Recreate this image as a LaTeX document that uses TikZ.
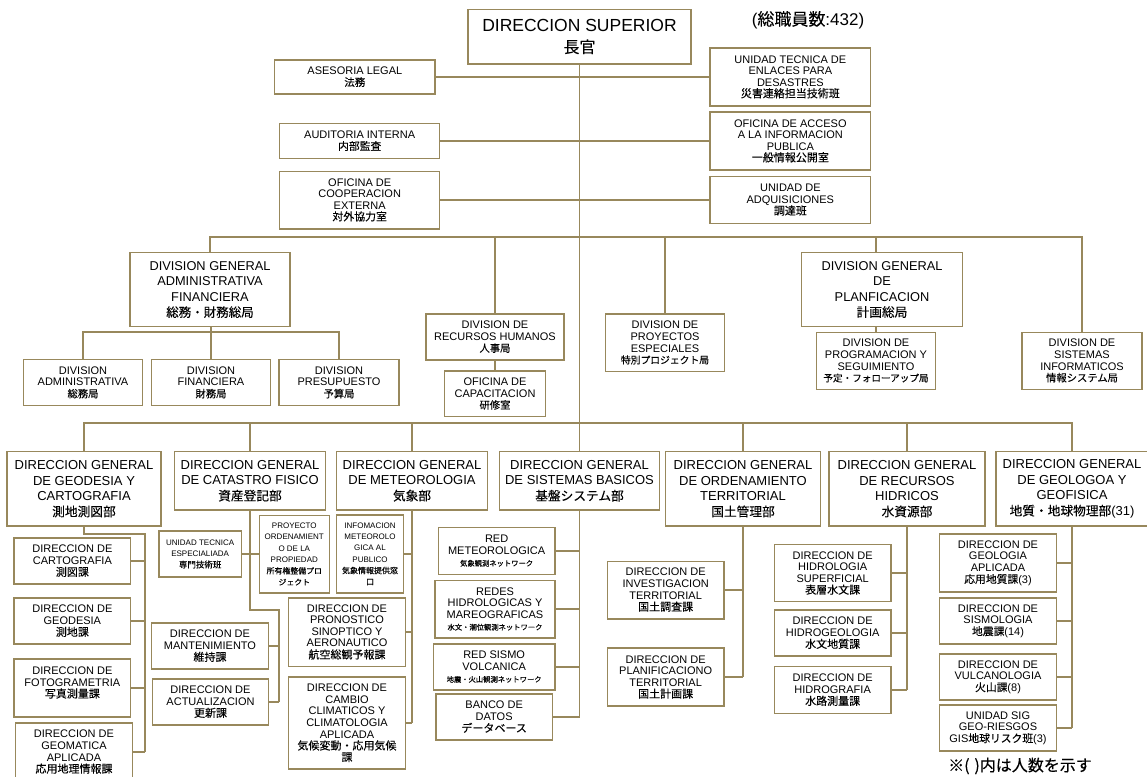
\documentclass[tikz,border=0pt]{standalone}
\usepackage{fontspec}
\setmainfont{Liberation Sans}
\newfontfamily\jp{Noto Sans CJK JP}[FakeBold=0.12]
\usetikzlibrary{backgrounds}
\definecolor{gold}{RGB}{152,136,92}
\newcommand\myfs[2]{\fontsize{#1}{#2}\selectfont}
\newcommand\J[1]{{\jp #1}}
\newcommand\Jsz[2]{{\jp\fontsize{#1}{#1}\selectfont #2}}
\tikzset{
 box/.style={draw=gold, line width=1.4pt, fill=white, inner sep=0pt, align=center},
 fbig/.style={font=\myfs{17.5}{21.5}},
 ftop/.style={font=\myfs{11}{11.4}},
 fnormal/.style={font=\myfs{11}{11.6}},
 fdg/.style={font=\myfs{13}{15.6}},
 fdiv/.style={font=\myfs{12.8}{15.6}},
 ftiny/.style={font=\myfs{8}{11.3}},
 conn/.style={draw=gold, line width=1.7pt},
}
\begin{document}
\begin{tikzpicture}[x=1pt,y=-1pt]
\useasboundingbox (0,0) rectangle (1147,776);
% ---- top section
\node[box,fbig,minimum width=223pt,minimum height=54.7pt] (dirsup) at (579.5,36.65) {DIRECCION SUPERIOR\\\Jsz{16}{長官}};
\node[font=\myfs{17}{20},inner sep=0pt] (total) at (808,20) {(\J{総職員数}:432)};
\node[box,ftop,minimum width=160.3pt,minimum height=34.3pt] (ases) at (354.85,77) {ASESORIA LEGAL\\\Jsz{10.5}{法務}};
\node[box,ftop,minimum width=160pt,minimum height=34.7pt] (aud) at (359.7,141) {AUDITORIA INTERNA\\\Jsz{10.8}{内部監査}};
\node[box,ftop,minimum width=160pt,minimum height=57.6pt] (coop) at (359.7,200) {OFICINA DE\\COOPERACION\\EXTERNA\\\Jsz{10.9}{対外協力室}};
\node[box,ftop,minimum width=160.7pt,minimum height=57.7pt] (ute) at (790.35,77) {UNIDAD TECNICA DE\\ENLACES PARA\\DESASTRES\\\Jsz{11}{災害連絡担当技術班}};
\node[box,ftop,minimum width=160.7pt,minimum height=57.7pt] (acc) at (790.35,141) {OFICINA DE ACCESO\\A LA INFORMACION\\PUBLICA\\\Jsz{11}{一般情報公開室}};
\node[box,ftop,minimum width=160.7pt,minimum height=46.6pt] (adq) at (790.35,200) {UNIDAD DE\\ADQUISICIONES\\\Jsz{11}{調達班}};
% ---- middle section
\node[box,fdiv,minimum width=160.3pt,minimum height=74.4pt] (dgaf) at (210,289.5) {DIVISION GENERAL\\ADMINISTRATIVA\\FINANCIERA\\\Jsz{12.5}{総務・財務総局}};
\node[box,fnormal,minimum width=119.4pt,minimum height=46.4pt] (dadm) at (83,382.5) {DIVISION\\ADMINISTRATIVA\\\Jsz{10.3}{総務局}};
\node[box,fnormal,minimum width=119pt,minimum height=46.4pt] (dfin) at (211,382.5) {DIVISION\\FINANCIERA\\\Jsz{10.3}{財務局}};
\node[box,fnormal,minimum width=119.7pt,minimum height=46.4pt] (dpre) at (339,382.5) {DIVISION\\PRESUPUESTO\\\Jsz{10.3}{予算局}};
\node[box,fnormal,minimum width=138pt,minimum height=46pt] (rrhh) at (495,337) {DIVISION DE\\RECURSOS HUMANOS\\\Jsz{10.3}{人事局}};
\node[box,fnormal,minimum width=100.7pt,minimum height=45.7pt] (capa) at (495,393.85) {OFICINA DE\\CAPACITACION\\\Jsz{10.3}{研修室}};
\node[box,fnormal,minimum width=119pt,minimum height=57.7pt] (proy) at (665,342.85) {DIVISION DE\\PROYECTOS\\ESPECIALES\\\Jsz{9.8}{特別プロジェクト局}};
\node[box,fdiv,minimum width=160.6pt,minimum height=74.4pt] (planif) at (882,289.5) {DIVISION GENERAL\\DE\\PLANFICACION\\\Jsz{12.7}{計画総局}};
\node[box,fnormal,minimum width=119pt,minimum height=57pt] (prog) at (876,360.8) {DIVISION DE\\PROGRAMACION Y\\SEGUIMIENTO\\\Jsz{9.6}{予定・フォローアップ局}};
\node[box,fnormal,minimum width=120pt,minimum height=57pt] (sist) at (1082,360.8) {DIVISION DE\\SISTEMAS\\INFORMATICOS\\\Jsz{10.3}{情報システム局}};
% ---- direcciones generales
\node[box,fdg,minimum width=154.3pt,minimum height=74.3pt] (dggeo) at (84,488.85) {DIRECCION GENERAL\\DE GEODESIA Y\\CARTOGRAFIA\\\Jsz{12.7}{測地測図部}};
\node[box,fdg,minimum width=151.4pt,minimum height=58.3pt] (dgcat) at (250,480.85) {DIRECCION GENERAL\\DE CATASTRO FISICO\\\Jsz{12.7}{資産登記部}};
\node[box,fdg,minimum width=150.6pt,minimum height=58.3pt] (dgmet) at (412,480.85) {DIRECCION GENERAL\\DE METEOROLOGIA\\\Jsz{12.7}{気象部}};
\node[box,fdg,minimum width=159.6pt,minimum height=58.3pt] (dgsis) at (579.5,480.85) {DIRECCION GENERAL\\DE SISTEMAS BASICOS\\\Jsz{12.7}{基盤システム部}};
\node[box,fdg,minimum width=155.3pt,minimum height=74.3pt] (dgord) at (743,488.85) {DIRECCION GENERAL\\DE ORDENAMIENTO\\TERRITORIAL\\\Jsz{12.7}{国土管理部}};
\node[box,fdg,minimum width=155.7pt,minimum height=74.3pt] (dgrec) at (907,488.85) {DIRECCION GENERAL\\DE RECURSOS\\HIDRICOS\\\Jsz{12.7}{水資源部}};
\node[box,fdg,minimum width=152.4pt,minimum height=74.3pt] (dggeol) at (1072,488.85) {DIRECCION GENERAL\\DE GEOLOGOA Y\\GEOFISICA\\\Jsz{12.7}{地質・地球物理部}(31)};
% ---- geodesia
\node[box,fnormal,minimum width=116.7pt,minimum height=46pt] (c1) at (72.35,561) {DIRECCION DE\\CARTOGRAFIA\\\Jsz{11}{測図課}};
\node[box,fnormal,minimum width=116.7pt,minimum height=46.3pt] (c2) at (72.35,621) {DIRECCION DE\\GEODESIA\\\Jsz{11}{測地課}};
\node[box,fnormal,minimum width=116.7pt,minimum height=58pt] (c3) at (72.35,688) {DIRECCION DE\\FOTOGRAMETRIA\\\Jsz{11}{写真測量課}\\\mbox{}};
\node[box,fnormal,minimum width=116.6pt,minimum height=58pt] (c4) at (74,752) {DIRECCION DE\\GEOMATICA\\APLICADA\\\Jsz{11}{応用地理情報課}};
% ---- catastro
\node[box,ftiny,minimum width=82.3pt,minimum height=46pt] (ute2) at (200.15,554) {UNIDAD TECNICA\\ESPECIALIADA\\\Jsz{8.5}{専門技術班}};
\node[box,ftiny,minimum width=70pt,minimum height=77.5pt] (proyord) at (294.3,554.25) {PROYECTO\\ORDENAMIENT\\O DE LA\\PROPIEDAD\\\Jsz{7.9}{所有権整備プロ}\\\Jsz{7.9}{ジェクト}};
\node[box,fnormal,minimum width=116.6pt,minimum height=46pt] (mant) at (210,646) {DIRECCION DE\\MANTENIMIENTO\\\Jsz{11}{維持課}};
\node[box,fnormal,minimum width=116.4pt,minimum height=46pt] (actu) at (210.5,702) {DIRECCION DE\\ACTUALIZACION\\\Jsz{11}{更新課}};
% ---- meteorologia
\node[box,ftiny,minimum width=66.6pt,minimum height=77.7pt] (info) at (370,554) {INFOMACION\\METEOROLO\\GICA AL\\PUBLICO\\\Jsz{8}{気象情報提供窓}\\\Jsz{8}{口}};
\node[box,fnormal,minimum width=116.6pt,minimum height=68.4pt] (pron) at (347,632) {DIRECCION DE\\PRONOSTICO\\SINOPTICO Y\\AERONAUTICO\\\Jsz{11}{航空総観予報課}};
\node[box,fnormal,minimum width=116.6pt,minimum height=92.3pt] (camb) at (347,723) {DIRECCION DE\\CAMBIO\\CLIMATICOS Y\\CLIMATOLOGIA\\APLICADA\\\Jsz{11}{気候変動・応用気候}\\\Jsz{11}{課}};
% ---- sistemas basicos
\node[box,fnormal,minimum width=116.7pt,minimum height=47pt] (redmet) at (496.65,551) {RED\\METEOROLOGICA\\\Jsz{7.3}{気象観測ネットワーク}};
\node[box,fnormal,minimum width=120pt,minimum height=57.6pt] (redhid) at (495,609) {REDES\\HIDROLOGICAS Y\\MAREOGRAFICAS\\\Jsz{7.3}{水文・潮位観測ネットワーク}};
\node[box,fnormal,minimum width=121.7pt,minimum height=46pt] (redsis) at (494.15,667) {RED SISMO\\VOLCANICA\\\Jsz{7.3}{地震・火山観測ネットワーク}};
\node[box,fnormal,minimum width=116.3pt,minimum height=46pt] (banco) at (494.15,717) {BANCO DE\\DATOS\\\Jsz{11}{データベース}};
% ---- ordenamiento
\node[box,fnormal,minimum width=116.7pt,minimum height=57.6pt] (inv) at (665.65,590) {DIRECCION DE\\INVESTIGACION\\TERRITORIAL\\\Jsz{11}{国土調査課}};
\node[box,fnormal,minimum width=116.7pt,minimum height=57.7pt] (plan2) at (665.65,677) {DIRECCION DE\\PLANIFICACIONO\\TERRITORIAL\\\Jsz{11}{国土計画課}};
% ---- recursos hidricos
\node[box,fnormal,minimum width=116.7pt,minimum height=57pt] (hsup) at (832.65,573) {DIRECCION DE\\HIDROLOGIA\\SUPERFICIAL\\\Jsz{11}{表層水文課}};
\node[box,fnormal,minimum width=116.7pt,minimum height=46pt] (hgeo) at (832.65,633) {DIRECCION DE\\HIDROGEOLOGIA\\\Jsz{11}{水文地質課}};
\node[box,fnormal,minimum width=116.7pt,minimum height=46.6pt] (hgra) at (832.65,690) {DIRECCION DE\\HIDROGRAFIA\\\Jsz{11}{水路測量課}};
% ---- geologia
\node[box,fnormal,minimum width=117.4pt,minimum height=57.7pt] (gapl) at (998,563) {DIRECCION DE\\GEOLOGIA\\APLICADA\\\Jsz{10.8}{応用地質課}(3)};
\node[box,fnormal,minimum width=117.4pt,minimum height=45.7pt] (gsis) at (998,621) {DIRECCION DE\\SISMOLOGIA\\\Jsz{10.8}{地震課}(14)};
\node[box,fnormal,minimum width=117.4pt,minimum height=45.7pt] (gvul) at (998,677) {DIRECCION DE\\VULCANOLOGIA\\\Jsz{10.8}{火山課}(8)};
\node[box,fnormal,minimum width=117.4pt,minimum height=46pt] (gsig) at (998,728) {UNIDAD SIG\\GEO-RIESGOS\\GIS\Jsz{10.8}{地球リスク班}(3)};
\node[font=\jp\myfs{16}{16},inner sep=0pt] (note) at (1020,766) {※(\hspace{0.3em})内は人数を示す};
% ---- coordinates
\coordinate (busA) at (0,237);
\coordinate (busB) at (0,332);
\coordinate (busC) at (0,423);
\coordinate (geoA) at (145,534);
\coordinate (geoE) at (145,752);
\coordinate (catA) at (279,610);
\coordinate (catE) at (279,702);
% ---- connectors
\begin{scope}[on background layer]
\fill[white] (0,0) rectangle (1147,776);
\draw[conn] (dirsup.south) -- (dgsis.north);
\draw[conn] (ases.east) -- (ute.west);
\draw[conn] (aud.east) -- (acc.west);
\draw[conn] (coop.east) -- (adq.west);
\draw[conn] (dgaf.north) |- (sist.north |- busA) -- (sist.north);
\draw[conn] (rrhh.north) -- (rrhh.north |- busA);
\draw[conn] (proy.north) -- (proy.north |- busA);
\draw[conn] (prog.north) -- (prog.north |- busA);
\draw[conn] (capa.north) -- (rrhh.south);
\draw[conn] (dadm.north) |- (dpre.north |- busB) -- (dpre.north);
\draw[conn] (dfin.north) -- (dfin.north |- dgaf.south);
\draw[conn] (dggeo.north) |- (dggeol.north |- busC) -- (dggeol.north);
\draw[conn] (dgcat.north) -- (dgcat.north |- busC);
\draw[conn] (dgmet.north) -- (dgmet.north |- busC);
\draw[conn] (dgord.north) -- (dgord.north |- busC);
\draw[conn] (dgrec.north) -- (dgrec.north |- busC);
% geodesia
\draw[conn] (dggeo.south) |- (geoA) -- (geoE);
\foreach \n in {c1,c2,c3,c4} \draw[conn] (\n.east) -- (\n.east -| geoA);
% catastro
\draw[conn] (dgcat.south) |- (catA) -- (catE);
\foreach \n in {mant,actu} \draw[conn] (\n.east) -- (\n.east -| catA);
\draw[conn] (ute2.east) -- (ute2.east -| proyord.west);
% meteorologia
\draw[conn] (dgmet.south) -- (dgmet.south |- camb.east);
\foreach \n in {info,pron,camb} \draw[conn] (\n.east) -- (\n.east -| dgmet.south);
% sistemas
\draw[conn] (dgsis.south) -- (dgsis.south |- banco.east);
\foreach \n in {redmet,redhid,redsis,banco} \draw[conn] (\n.east) -- (\n.east -| dgsis.south);
% ordenamiento
\draw[conn] (dgord.south) -- (dgord.south |- plan2.east);
\foreach \n in {inv,plan2} \draw[conn] (\n.east) -- (\n.east -| dgord.south);
% recursos
\draw[conn] (dgrec.south) -- (dgrec.south |- hgra.east);
\foreach \n in {hsup,hgeo,hgra} \draw[conn] (\n.east) -- (\n.east -| dgrec.south);
% geologia
\draw[conn] (dggeol.south) -- (dggeol.south |- gsig.east);
\foreach \n in {gapl,gsis,gvul,gsig} \draw[conn] (\n.east) -- (\n.east -| dggeol.south);
\end{scope}
\end{tikzpicture}
\end{document}
